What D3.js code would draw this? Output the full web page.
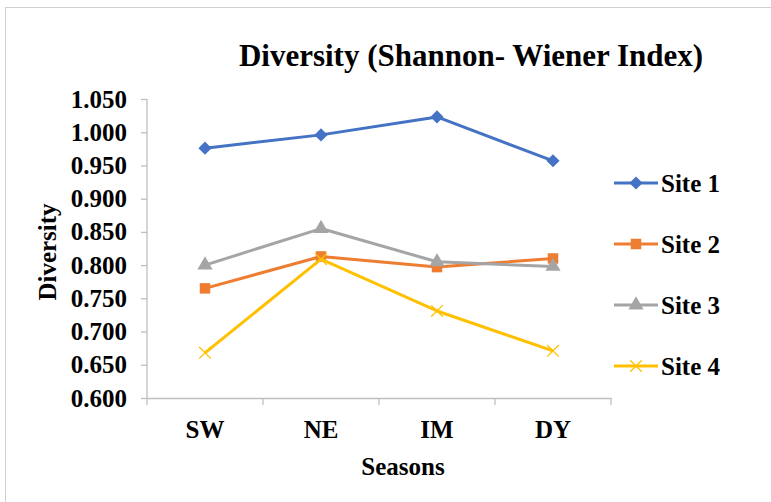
<!DOCTYPE html>
<html>
<head>
<meta charset="utf-8">
<script src="https://cdn.jsdelivr.net/npm/d3@7"></script>
<style>
  body { margin: 0; background: #fff; }
  text { font-family: "Liberation Serif", "Times New Roman", serif; font-weight: bold; fill: #000; }
</style>
</head>
<body>
<div id="chart"></div>
<script>
// data
var seasons = ["SW", "NE", "IM", "DY"];
var siteNames = ["Site 1", "Site 2", "Site 3", "Site 4"];
var site1 = [0.976, 0.996, 1.023, 0.957];
var site2 = [0.765, 0.813, 0.797, 0.810];
var site3 = [0.800, 0.855, 0.805, 0.798];
var site4 = [0.668, 0.809, 0.731, 0.671];
var yTicks = [0.600, 0.650, 0.700, 0.750, 0.800, 0.850, 0.900, 0.950, 1.000, 1.050];

var colors = ["#4472C4", "#ED7D31", "#A5A5A5", "#FFC000"];
var symbols = [d3.symbolDiamond2, d3.symbolSquare, d3.symbolTriangle, d3.symbolX];
var symSizes = [110, 110, 100, 90];
var series = [site1, site2, site3, site4];

var width = 771, height = 502;
var margin = {top: 99, right: 160, bottom: 105, left: 147};
var plotW = 611 - margin.left,
    plotH = 398 - margin.top;

var svg = d3.select("#chart")
  .append("svg")
    .attr("width", width)
    .attr("height", height);

// chart border
svg.append("rect")
  .attr("x", 5.5).attr("y", 7.5)
  .attr("width", 780).attr("height", 510)
  .attr("fill", "none")
  .attr("stroke", "#d0d0d0")
  .attr("stroke-width", 1);

var g = svg.append("g")
  .attr("transform", "translate(" + margin.left + "," + margin.top + ")");

var x = d3.scaleBand()
  .domain(seasons)
  .range([0, plotW]);

var y = d3.scaleLinear()
  .domain([0.6, 1.05])
  .range([plotH, 0]);

// X axis
var xAxis = g.append("g")
  .attr("transform", "translate(0," + plotH + ")")
  .call(d3.axisBottom(x).tickSize(0).tickPadding(22));
xAxis.attr("font-family", "Liberation Serif").attr("font-size", 25);
xAxis.select(".domain").attr("stroke", "#bfbfbf").attr("stroke-width", 1.3);
xAxis.selectAll("text").attr("fill", "#000");
// tick marks between categories
xAxis.selectAll(".sep")
  .data(d3.range(seasons.length + 1))
  .enter()
  .append("line")
    .attr("x1", function (d) { return d * x.step(); })
    .attr("x2", function (d) { return d * x.step(); })
    .attr("y1", 0).attr("y2", 7)
    .attr("stroke", "#bfbfbf").attr("stroke-width", 1.3);

// Y axis
var yAxis = g.append("g")
  .call(d3.axisLeft(y).tickValues(yTicks).tickFormat(d3.format(".3f")).tickSize(6).tickPadding(14));
yAxis.attr("font-family", "Liberation Serif").attr("font-size", 25);
yAxis.select(".domain").attr("stroke", "#bfbfbf").attr("stroke-width", 1.3).attr("d", "M0," + plotH + "V0");
yAxis.selectAll("line").attr("stroke", "#bfbfbf").attr("stroke-width", 1.3);
yAxis.selectAll("text").attr("fill", "#000");

// lines and markers
var line = d3.line()
  .x(function (d, i) { return x(seasons[i]) + x.bandwidth() / 2; })
  .y(function (d) { return y(d); });

series.forEach(function (s, k) {
  g.append("path")
    .datum(s)
    .attr("fill", "none")
    .attr("stroke", colors[k])
    .attr("stroke-width", 3)
    .attr("stroke-linejoin", "round")
    .attr("d", line);

  g.selectAll(".m" + k)
    .data(s)
    .enter()
    .append("path")
      .attr("transform", function (d, i) {
        return "translate(" + (x(seasons[i]) + x.bandwidth() / 2) + "," + y(d) + ")";
      })
      .attr("d", d3.symbol().type(symbols[k]).size(symSizes[k]))
      .attr("fill", k === 3 ? "none" : colors[k])
      .attr("stroke", colors[k])
      .attr("stroke-width", k === 3 ? 1.3 : 0);
});

// title
svg.append("text")
  .attr("x", 471).attr("y", 66)
  .attr("text-anchor", "middle")
  .style("font-size", "31px")
  .text("Diversity (Shannon- Wiener Index)");

// axis titles
svg.append("text")
  .attr("x", 403).attr("y", 475)
  .attr("text-anchor", "middle")
  .style("font-size", "25px")
  .text("Seasons");

svg.append("text")
  .attr("transform", "translate(56,252) rotate(-90)")
  .attr("text-anchor", "middle")
  .style("font-size", "25px")
  .text("Diversity");

// legend
var legend = svg.append("g");
siteNames.forEach(function (name, k) {
  var ly = 183 + k * 61;
  legend.append("line")
    .attr("x1", 614).attr("x2", 658)
    .attr("y1", ly).attr("y2", ly)
    .attr("stroke", colors[k]).attr("stroke-width", 3);
  legend.append("path")
    .attr("transform", "translate(636," + ly + ")")
    .attr("d", d3.symbol().type(symbols[k]).size(symSizes[k]))
    .attr("fill", k === 3 ? "none" : colors[k])
    .attr("stroke", colors[k])
    .attr("stroke-width", k === 3 ? 1.3 : 0);
  legend.append("text")
    .attr("x", 661).attr("y", ly + 9)
    .style("font-size", "25px")
    .text(name);
});
</script>
</body>
</html>
